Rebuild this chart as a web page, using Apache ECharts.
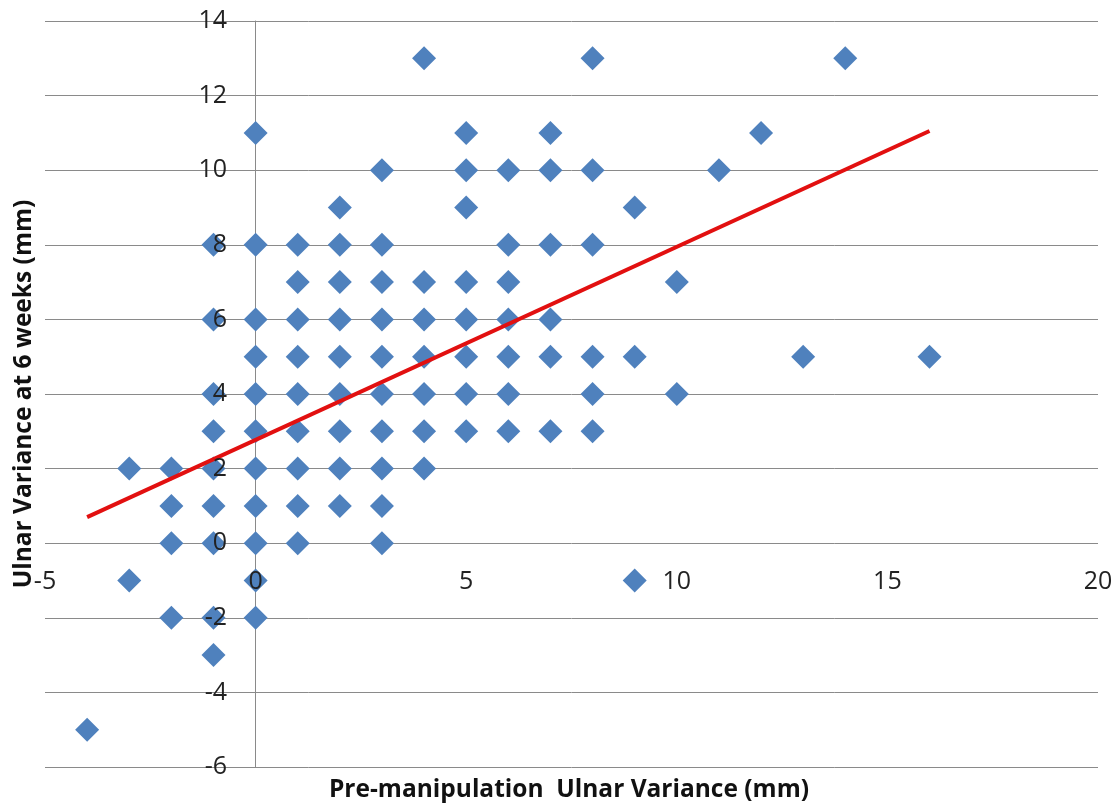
<!DOCTYPE html>
<html>
<head>
<meta charset="utf-8">
<script src="https://cdn.jsdelivr.net/npm/echarts@6/dist/echarts.min.js"></script>
<style>
html,body{margin:0;padding:0;background:#ffffff;}
#chart{width:1120px;height:806px;}
</style>
</head>
<body>
<div id="chart"></div>
<script>
// Pre-manipulation ulnar variance (mm) – x values
const preManipulation = [
  4, 8, 14,
  0, 5, 7, 12,
  3, 5, 6, 7, 8, 11,
  2, 5, 9,
  -1, 0, 1, 2, 3, 6, 7, 8,
  1, 2, 3, 4, 5, 6, 10,
  -1, 0, 1, 2, 3, 4, 5, 6, 7,
  0, 1, 2, 3, 4, 5, 6, 7, 8, 9, 13, 16,
  -1, 0, 1, 2, 3, 4, 5, 6, 8, 10,
  -1, 0, 1, 2, 3, 4, 5, 6, 7, 8,
  -3, -2, -1, 0, 1, 2, 3, 4,
  -2, -1, 0, 1, 2, 3,
  -2, -1, 0, 1, 3,
  -3, 0, 9,
  -2, -1, 0,
  -1,
  -4
];
// Ulnar variance at 6 weeks (mm) – y values
const sixWeeks = [
  13, 13, 13,
  11, 11, 11, 11,
  10, 10, 10, 10, 10, 10,
  9, 9, 9,
  8, 8, 8, 8, 8, 8, 8, 8,
  7, 7, 7, 7, 7, 7, 7,
  6, 6, 6, 6, 6, 6, 6, 6, 6,
  5, 5, 5, 5, 5, 5, 5, 5, 5, 5, 5, 5,
  4, 4, 4, 4, 4, 4, 4, 4, 4, 4,
  3, 3, 3, 3, 3, 3, 3, 3, 3, 3,
  2, 2, 2, 2, 2, 2, 2, 2,
  1, 1, 1, 1, 1, 1,
  0, 0, 0, 0, 0,
  -1, -1, -1,
  -2, -2, -2,
  -3,
  -5
];
// Linear trend line end points
const trendX = [-4, 16];
const trendY = [0.70, 11.05];

const xTitle = 'Pre-manipulation  Ulnar Variance (mm)';
const yTitle = 'Ulnar Variance at 6 weeks (mm)';

const scatterData = preManipulation.map((x, i) => [x, sixWeeks[i]]);
const trendData = trendX.map((x, i) => [x, trendY[i]]);

const labelFont = {fontFamily: 'Open Sans', fontSize: 25, color: '#222222'};
const gridColor = '#8a8a8a';

const chart = echarts.init(document.getElementById('chart'), null, {renderer: 'canvas'});
chart.setOption({
  animation: false,
  backgroundColor: '#ffffff',
  grid: {left: 45, right: 22, top: 21, bottom: 39, containLabel: false, outerBoundsMode: 'none'},
  xAxis: [
    {
      type: 'value', min: -5, max: 20, interval: 5, position: 'bottom',
      axisLine: {show: false, onZero: false},
      axisTick: {show: false},
      splitLine: {show: false},
      axisLabel: {show: false}
    },
    {
      type: 'value', min: -5, max: 20, interval: 5, position: 'top',
      axisLine: {show: false, onZero: false},
      axisTick: {show: false},
      splitLine: {show: false},
      axisLabel: Object.assign({inside: true, margin: 548, verticalAlign: 'top', showMinLabel: true, showMaxLabel: true}, labelFont),
      z: 10
    }
  ],
  yAxis: [
    {
      type: 'value', min: -6, max: 14, interval: 2,
      axisLine: {show: true, onZero: true, lineStyle: {color: gridColor, width: 1}},
      axisTick: {show: false},
      axisLabel: {show: false},
      splitLine: {show: true, lineStyle: {color: gridColor, width: 1}}
    },
    {
      type: 'value', min: -6, max: 14, interval: 2, position: 'left',
      axisLine: {show: false, onZero: false},
      axisTick: {show: false},
      splitLine: {show: false},
      axisLabel: Object.assign({inside: true, align: 'right', margin: 182, showMinLabel: true, showMaxLabel: true}, labelFont),
      z: 10
    }
  ],
  series: [
    {
      type: 'scatter',
      xAxisIndex: 0,
      yAxisIndex: 0,
      data: scatterData,
      symbol: 'diamond',
      symbolSize: 24,
      itemStyle: {color: '#4F81BD', opacity: 1},
      z: 2
    },
    {
      type: 'line',
      xAxisIndex: 0,
      yAxisIndex: 0,
      data: trendData,
      symbol: 'none',
      lineStyle: {color: '#E21010', width: 4},
      z: 3
    }
  ],
  graphic: [
    {
      type: 'text', x: 569, y: 790,
      style: {text: xTitle, font: 'bold 24.5px "Open Sans"', fill: '#111111', align: 'center', verticalAlign: 'middle'}
    },
    {
      type: 'text', x: 24, y: 394, rotation: Math.PI / 2,
      style: {text: yTitle, font: 'bold 24.5px "Open Sans"', fill: '#111111', align: 'center', verticalAlign: 'middle'}
    }
  ]
});
</script>
</body>
</html>
